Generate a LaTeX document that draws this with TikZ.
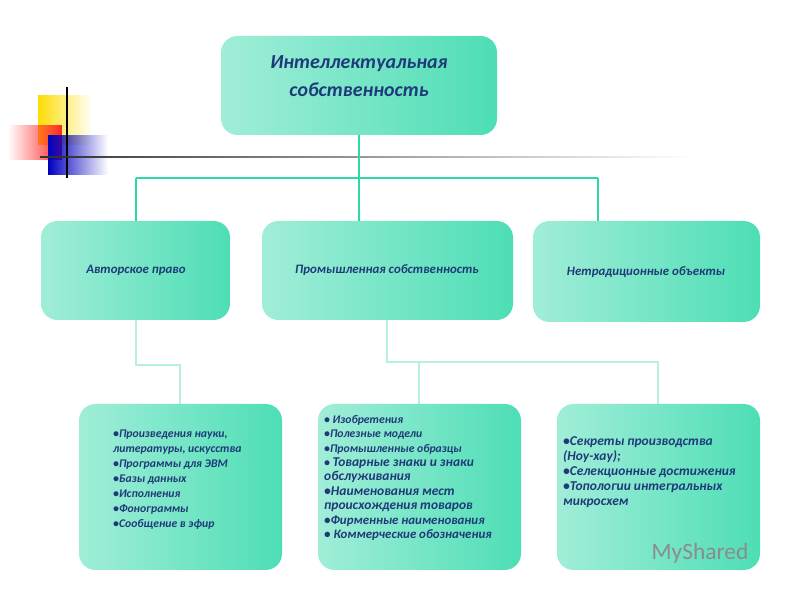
\documentclass[tikz,border=0pt]{standalone}
\usepackage{fontspec}
\setmainfont{Carlito}
\usetikzlibrary{fadings}
\definecolor{txt}{HTML}{1F3A78}
\definecolor{lnk}{HTML}{2ED8A8}
\definecolor{pale}{HTML}{B8F0E0}
\tikzset{
 bx/.style={rounded corners=14pt, left color=lnk!45, right color=lnk!85, draw=none},
 lk/.style={lnk, line width=2.5pt},
 pl/.style={pale, line width=2.5pt},
 tx/.style={text=txt, font=\bfseries\itshape\fontsize{11}{13}\selectfont}
}
\begin{document}
\begin{tikzpicture}[x=0.03cm,y=-0.03cm]
\useasboundingbox (0,0) rectangle (800,600);
% decoration
\fill[yellow!80!orange, path fading=east] (38,95) rectangle (92,145);
\fill[red!85, path fading=west] (8,125) rectangle (62,160);
\fill[blue!75!black, path fading=east] (48,135) rectangle (108,175);
\draw[black, line width=1.3pt] (67,87) -- (67,178);
\draw[black!80, line width=1.5pt, path fading=east] (40,157) -- (690,157);
% boxes
\shade[bx] (221,36) rectangle (497,135);
\node[text=txt, font=\bfseries\itshape\fontsize{17}{24}\selectfont, align=center] (top) at (359,76) {Интеллектуальная\\собственность};
\coordinate (topb) at (359,135);
\shade[bx] (41,221) rectangle (230,320);
\node[tx] (a) at (136,270) {Авторское право};
\shade[bx] (262,221) rectangle (513,320);
\node[tx] (b) at (387,270) {Промышленная собственность};
\shade[bx] (533,221) rectangle (760,322);
\node[tx] (c) at (646,272) {Нетрадиционные объекты};
\shade[bx] (79,404) rectangle (282,570);
\shade[bx] (318,404) rectangle (521,570);
\shade[bx] (557,404) rectangle (760,570);
\node[text=txt, font=\bfseries\itshape\fontsize{10}{12.7}\selectfont, align=left, anchor=north west, inner sep=0pt] (d) at (113,430) {•Произведения науки,\\литературы, искусства\\•Программы для ЭВМ\\•Базы данных\\•Исполнения\\•Фонограммы\\•Сообщение в эфир};
\node[text=txt, font=\bfseries\itshape\fontsize{10}{12.3}\selectfont, align=left, anchor=north west, inner sep=0pt] (e) at (324,415) {• Изобретения\\•Полезные модели\\•Промышленные образцы\\• {\fontsize{11.5}{12}\selectfont Товарные знаки и знаки}\\{\fontsize{11.5}{12}\selectfont обслуживания}\\{\fontsize{11.5}{12}\selectfont •Наименования мест}\\{\fontsize{11.5}{12}\selectfont происхождения товаров}\\{\fontsize{11}{12}\selectfont •Фирменные наименования}\\{\fontsize{11}{12}\selectfont • Коммерческие обозначения}};
\node[text=txt, font=\bfseries\itshape\fontsize{11.5}{13}\selectfont, align=left, anchor=north west, inner sep=0pt] (f) at (563,436) {•Секреты производства\\(Ноу-хау);\\•Селекционные достижения\\•Топологии интегральных\\микросхем};
% connectors
\coordinate (j) at (359,178);
\coordinate (ja) at (136,178);
\coordinate (jc) at (598,178);
\draw[lk] (topb) -- (j);
\draw[lk] (ja) -- (jc);
\draw[lk] (ja) -- (136,221);
\draw[lk] (j) -- (359,221);
\draw[lk] (jc) -- (598,221);
\coordinate (pa) at (136,320);
\draw[pl] (pa) -- (136,365) -- (180,365) -- (180,404);
\coordinate (pb) at (387,320);
\draw[pl] (pb) -- (387,362) -- (658,362) -- (658,404);
\draw[pl] (419,362) -- (419,404);
\node[text=black!45, font=\fontsize{20}{20}\selectfont] (w) at (700,553) {MyShared};
\end{tikzpicture}
\end{document}
